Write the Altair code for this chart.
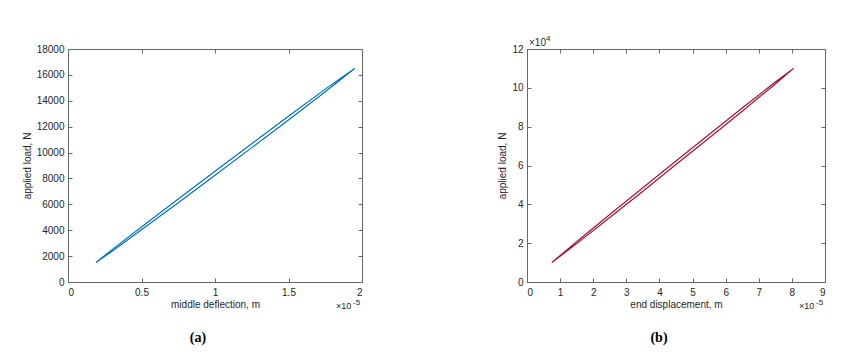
import altair as alt
import pandas as pd

# ---- panel (a): middle deflection (x 1e-5 m) vs applied load (N), one loading/unloading loop
a_x = [0.19, 0.30, 0.50, 0.75, 1.00, 1.25, 1.50, 1.75, 1.95,
       1.75, 1.50, 1.25, 1.00, 0.75, 0.50, 0.30, 0.19]
a_y = [1500, 2380, 4030, 6130, 8250, 10380, 12520, 14700, 16500,
       14900, 12800, 10680, 8550, 6410, 4250, 2500, 1500]
a_xticks = [0, 0.5, 1, 1.5, 2]
a_yticks = [0, 2000, 4000, 6000, 8000, 10000, 12000, 14000, 16000, 18000]

# ---- panel (b): end displacement (x 1e-5 m) vs applied load (x 1e4 N)
b_x = [0.75, 1.5, 2.5, 3.5, 4.5, 5.5, 6.5, 7.5, 8.05,
       7.5, 6.5, 5.5, 4.5, 3.5, 2.5, 1.5, 0.75]
b_y = [1.00, 1.977, 3.317, 4.677, 6.047, 7.417, 8.797, 10.197, 11.00,
       10.297, 8.957, 7.597, 6.227, 4.857, 3.477, 2.077, 1.00]
b_xticks = [0, 1, 2, 3, 4, 5, 6, 7, 8, 9]
b_yticks = [0, 2, 4, 6, 8, 10, 12]

FONT = "Liberation Sans"
AX = "#666666"
TXT = "#262626"


def panel(xs, ys, color, xdom, xticks, ydom, yticks, xtitle, ytitle, w, h,
          label, xexp, yexp=None):
    df = pd.DataFrame({"x": xs, "y": ys, "i": list(range(len(xs)))})
    base = alt.Chart(df)
    xs_ = alt.Scale(domain=xdom, nice=False, zero=False)
    ys_ = alt.Scale(domain=ydom, nice=False, zero=False)
    line = base.mark_line(color=color, strokeWidth=1.2).encode(
        x=alt.X("x:Q", scale=xs_, axis=alt.Axis(
            orient="bottom", values=xticks, title=xtitle, ticks=False,
            format="~g", domain=False, grid=False, labelPadding=5, titlePadding=2,
            labelFont=FONT, labelFontSize=10, labelColor=TXT,
            titleFont=FONT, titleFontSize=10, titleFontWeight="normal",
            titleColor=TXT)),
        y=alt.Y("y:Q", scale=ys_, axis=alt.Axis(
            orient="left", values=yticks, title=ytitle, ticks=False,
            format="d", domain=False, grid=False, labelPadding=4, titlePadding=4,
            labelFont=FONT, labelFontSize=10, labelColor=TXT,
            titleFont=FONT, titleFontSize=10, titleFontWeight="normal",
            titleColor=TXT)),
        order=alt.Order("i:Q"),
    )
    t1 = base.mark_line(opacity=0).encode(
        x=alt.X("x:Q", scale=xs_, axis=alt.Axis(
            orient="bottom", values=xticks, title=None, labels=False,
            domain=False, grid=False, ticks=True, tickSize=4, offset=-4,
            tickColor=AX)),
        y=alt.Y("y:Q", scale=ys_, axis=alt.Axis(
            orient="left", values=yticks, title=None, labels=False,
            domain=False, grid=False, ticks=True, tickSize=4, offset=-4,
            tickColor=AX)),
        order=alt.Order("i:Q"),
    )
    t2 = base.mark_line(opacity=0).encode(
        x=alt.X("x:Q", scale=xs_, axis=alt.Axis(
            orient="top", values=xticks, title=None, labels=False,
            domain=False, grid=False, ticks=True, tickSize=4, offset=-4,
            tickColor=AX)),
        y=alt.Y("y:Q", scale=ys_, axis=alt.Axis(
            orient="right", values=yticks, title=None, labels=False,
            domain=False, grid=False, ticks=True, tickSize=4, offset=-4,
            tickColor=AX)),
        order=alt.Order("i:Q"),
    )
    layers = [line, t1, t2]
    one = alt.Chart(pd.DataFrame({"k": [0]}))
    # x exponent label below the right end of the x axis
    layers.append(one.mark_text(font=FONT, fontSize=9, color=TXT, align="left",
                                baseline="alphabetic").encode(
        x=alt.value(w - 26), y=alt.value(h + 27), text=alt.value("\u00d710")))
    layers.append(one.mark_text(font=FONT, fontSize=8, color=TXT, align="left",
                                baseline="alphabetic").encode(
        x=alt.value(w - 9), y=alt.value(h + 23), text=alt.value(xexp)))
    if yexp is not None:
        layers.append(one.mark_text(font=FONT, fontSize=10, color=TXT, align="left",
                                    baseline="alphabetic").encode(
            x=alt.value(2), y=alt.value(-3), text=alt.value("\u00d710")))
        layers.append(one.mark_text(font=FONT, fontSize=8, color=TXT, align="left",
                                    baseline="alphabetic").encode(
            x=alt.value(19), y=alt.value(-8), text=alt.value(yexp)))
    return alt.layer(*layers).resolve_axis(x="independent", y="independent").properties(
        width=w, height=h,
        title=alt.TitleParams(label, orient="bottom", anchor="middle",
                              font="Liberation Serif", fontSize=14,
                              fontWeight="bold", color="#000000", offset=20,
                              dx=-17),
    )


left = panel(a_x, a_y, "#0072BD", [0, 2], a_xticks, [0, 18000], a_yticks,
             "middle deflection, m", "applied load, N", 294, 233, "(a)", "-5")
right = panel(b_x, b_y, "#A2142F", [0, 9], b_xticks, [0, 12], b_yticks,
              "end displacement, m", "applied load, N", 298, 233, "(b)", "-5", "4")

chart = alt.hconcat(left, right, spacing=165, bounds="flush").properties(
    padding={"left": 13, "top": 26, "right": 5, "bottom": 5},
    background="white",
).configure_view(stroke=AX, strokeWidth=1)

chart.save("out.html", embed_options={"renderer": "svg", "actions": False})
